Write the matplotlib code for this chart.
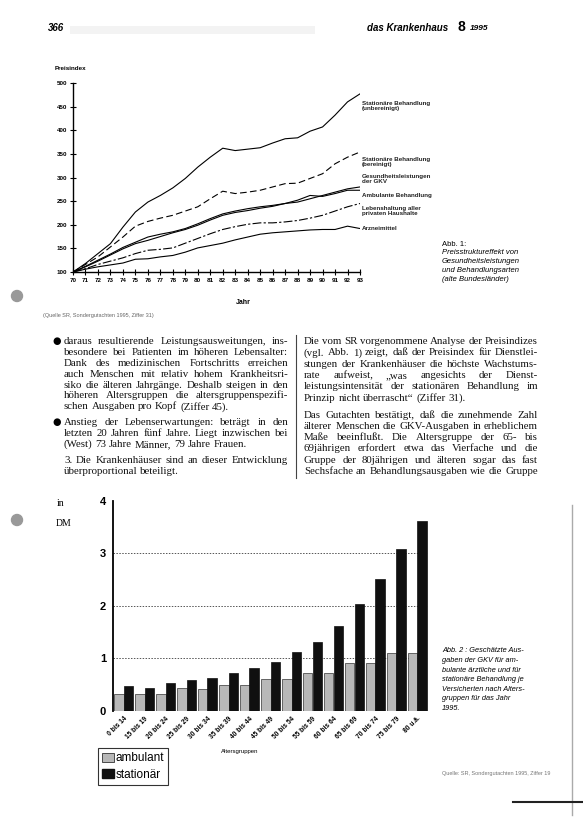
import matplotlib.pyplot as plt
from matplotlib.patches import Patch, Ellipse, Rectangle
from matplotlib.lines import Line2D
import numpy as np

# --- Abb. 1: Preisindizes 1970-1993 ---
years = list(range(70, 94))
stat_unbereinigt = [100, 118, 139, 160, 195, 227, 248, 262, 278, 298, 322, 343,
                    362, 357, 360, 363, 373, 382, 384, 398, 407, 432, 460, 477]
stat_bereinigt = [100, 116, 132, 153, 174, 197, 207, 214, 220, 229, 238, 255,
                  271, 266, 269, 273, 280, 287, 288, 298, 308, 329, 343, 354]
gkv = [100, 112, 125, 138, 152, 163, 174, 180, 185, 192, 202, 213,
       223, 229, 234, 238, 241, 245, 248, 255, 262, 269, 276, 280]
ambulant_idx = [100, 111, 123, 136, 149, 160, 167, 175, 183, 190, 199, 210,
                220, 226, 230, 235, 239, 245, 252, 262, 260, 266, 273, 273]
lebenshaltung = [100, 107, 116, 123, 130, 139, 146, 148, 151, 161, 171, 181,
                 190, 196, 201, 204, 204, 206, 209, 214, 220, 229, 238, 245]
arzneimittel = [100, 106, 111, 115, 119, 127, 128, 132, 135, 142, 151, 156,
                161, 168, 174, 180, 183, 185, 187, 189, 190, 190, 197, 192]
series1_labels = ["Stationäre Behandlung\n(unbereinigt)",
                  "Stationäre Behandlung\n(bereinigt)",
                  "Gesundheitsleistungen\nder GKV",
                  "Ambulante Behandlung",
                  "Lebenshaltung aller\nprivaten Haushalte",
                  "Arzneimittel"]

# --- Abb. 2: Ausgaben je Versicherten 1995 (DM) ---
altersgruppen = ["0 bis 14", "15 bis 19", "20 bis 24", "25 bis 29", "30 bis 34",
                 "35 bis 39", "40 bis 44", "45 bis 49", "50 bis 54", "55 bis 59",
                 "60 bis 64", "65 bis 69", "70 bis 74", "75 bis 79", "80 u.ä."]
ausgaben_ambulant = [0.33, 0.32, 0.33, 0.43, 0.42, 0.50, 0.50, 0.61, 0.61, 0.73,
                     0.73, 0.92, 0.91, 1.10, 1.10]
ausgaben_stationaer = [0.47, 0.43, 0.54, 0.59, 0.63, 0.73, 0.81, 0.94, 1.12, 1.32,
                       1.61, 2.04, 2.51, 3.09, 3.62]

W, H = 583, 824


def fx(px):
    return px / W


def fy(py):
    return 1 - py / H


fig = plt.figure(figsize=(W / 100, H / 100), dpi=100)
fig.patch.set_facecolor('white')
sans = 'Liberation Sans'
serif = 'Liberation Serif'

# Kopfzeile
fig.add_artist(Rectangle((fx(70), fy(34)), 245 / W, 8 / H, transform=fig.transFigure,
                         color='#f3f3f3', lw=0))
fig.text(fx(48), fy(28), "366", fontsize=7, weight='bold', style='italic',
         family=sans, va='center')
fig.text(fx(367), fy(28), "das Krankenhaus", fontsize=7, weight='bold', style='italic',
         family=sans, va='center')
fig.text(fx(457), fy(27), "8", fontsize=10, weight='bold', family=sans, va='center')
fig.text(fx(470), fy(28), "1995", fontsize=6, weight='bold', style='italic',
         family=sans, va='center')

# ---------------- Abb. 1 ----------------
ax1 = fig.add_axes([fx(73), fy(272), 287 / W, 189 / H])
styles = ['-', (0, (6, 3)), '-', '-', (0, (8, 2, 2, 2)), '-']
for vals, ls in zip([stat_unbereinigt, stat_bereinigt, gkv, ambulant_idx,
                     lebenshaltung, arzneimittel], styles):
    ax1.plot(years, vals, color='black', lw=0.8, ls=ls)
ax1.set_xlim(70, 93)
ax1.set_ylim(100, 500)
ax1.set_xticks(years)
ax1.set_xticklabels([str(y) for y in years])
ax1.set_yticks(range(100, 501, 50))
for s in ['top', 'right']:
    ax1.spines[s].set_visible(False)
for s in ['left', 'bottom']:
    ax1.spines[s].set_linewidth(1.0)
ax1.tick_params(direction='inout', length=4, width=0.8, labelsize=4.5, pad=2)
for lab in ax1.get_xticklabels() + ax1.get_yticklabels():
    lab.set_family(sans)
    lab.set_weight('bold')
fig.text(fx(55), fy(68), "Preisindex", fontsize=4.5, weight='bold', family=sans,
         va='center')

label_y = [101, 157, 174, 195, 206, 229]
for lab, y in zip(series1_labels, label_y):
    fig.text(fx(362), fy(y), lab, fontsize=4.5, weight='bold', family=sans,
             va='top' if '\n' in lab else 'center', linespacing=1.05,
             color='#222')

fig.text(fx(442), fy(244), "Abb. 1:", fontsize=5.5, family=sans, va='center')
abb1 = ["Preisstruktureffekt von", "Gesundheitsleistungen",
        "und Behandlungsarten", "(alte Bundesländer)"]
for i, l in enumerate(abb1):
    fig.text(fx(442), fy(253 + 8.7 * i), l, fontsize=5.5, style='italic',
             family=sans, va='center')

fig.text(fx(243), fy(303), "Jahr", fontsize=5, weight='bold', family=sans,
         ha='center', va='center')
fig.text(fx(43), fy(315), "(Quelle SR, Sondergutachten 1995, Ziffer 31)", fontsize=4,
         family=sans, va='center', color='#666')

# ---------------- Fließtext ----------------
renderer = fig.canvas.get_renderer()


def put_line(x0, x1, ypx, line, justify, size=7.8):
    words = line.split(' ')
    ts = [fig.text(0, fy(ypx + 3), w, fontsize=size, family=serif, va='baseline',
                   color='#111') for w in words]
    ws = [t.get_window_extent(renderer).width for t in ts]
    if justify and len(words) > 1:
        gap = (x1 - x0 - sum(ws)) / (len(words) - 1)
    else:
        gap = size * 1.39 * 0.25
    x = x0
    for t, w in zip(ts, ws):
        t.set_x(fx(x))
        x += w + gap


left_paras = [
    ["daraus resultierende Leistungsausweitungen, ins-",
     "besondere bei Patienten im höheren Lebensalter:",
     "Dank des medizinischen Fortschritts erreichen",
     "auch Menschen mit relativ hohem Krankheitsri-",
     "siko die älteren Jahrgänge. Deshalb steigen in den",
     "höheren Altersgruppen die altersgruppenspezifi-",
     "schen Ausgaben pro Kopf (Ziffer 45)."],
    ["Anstieg der Lebenserwartungen: beträgt in den",
     "letzten 20 Jahren fünf Jahre. Liegt inzwischen bei",
     "(West) 73 Jahre Männer, 79 Jahre Frauen."],
    ["3. Die Krankenhäuser sind an dieser Entwicklung",
     "überproportional beteiligt."],
]
right_paras = [
    ["Die vom SR vorgenommene Analyse der Preisindizes",
     "(vgl. Abb. 1) zeigt, daß der Preisindex für Dienstlei-",
     "stungen der Krankenhäuser die höchste Wachstums-",
     "rate aufweist, „was angesichts der Dienst-",
     "leistungsintensität der stationären Behandlung im",
     "Prinzip nicht überrascht“ (Ziffer 31)."],
    ["Das Gutachten bestätigt, daß die zunehmende Zahl",
     "älterer Menschen die GKV-Ausgaben in erheblichem",
     "Maße beeinflußt. Die Altersgruppe der 65- bis",
     "69jährigen erfordert etwa das Vierfache und die",
     "Gruppe der 80jährigen und älteren sogar das fast",
     "Sechsfache an Behandlungsausgaben wie die Gruppe"],
]

y = 341
for pi, para in enumerate(left_paras):
    if pi < 2:
        fig.text(fx(52), fy(y + 3), "●", fontsize=7, family='DejaVu Sans',
                 va='baseline')
    for li, line in enumerate(para):
        put_line(64, 288, y, line, li < len(para) - 1)
        y += 10.9
    y += 5

y = 341
for pi, para in enumerate(right_paras):
    for li, line in enumerate(para):
        last = li == len(para) - 1 and pi == 0
        put_line(304, 538, y, line, not last)
        y += 11.3
    y += 5.7

fig.add_artist(Line2D([fx(296), fx(296)], [fy(335), fy(478)], color='#444', lw=0.8))

# ---------------- Abb. 2 ----------------
ax2 = fig.add_axes([fx(113), fy(711), 315 / W, 210.3 / H])
xpos = np.arange(len(altersgruppen))
bw = 0.44
for lvl in [1, 2, 3]:
    ax2.axhline(lvl, color='#555', lw=0.7, ls=(0, (1.5, 1.5)), zorder=0)
ax2.bar(xpos - bw / 2, ausgaben_ambulant, bw, color='#b8b8b8', edgecolor='#333',
        lw=0.5, zorder=2)
ax2.bar(xpos + bw / 2, ausgaben_stationaer, bw, color='#101010', edgecolor='#101010',
        lw=0.5, zorder=2)
ax2.set_xlim(-0.5, 14.5)
ax2.set_ylim(0, 4)
ax2.set_yticks([0, 1, 2, 3, 4])
ax2.set_xticks(xpos)
ax2.set_xticklabels(altersgruppen, rotation=45, ha='right', va='top',
                    rotation_mode='anchor', fontsize=4.8, weight='bold', family=sans)
ax2.tick_params(axis='x', length=0, pad=3)
ax2.tick_params(axis='y', length=0, pad=5, labelsize=8)
for lab in ax2.get_yticklabels():
    lab.set_family(sans)
    lab.set_weight('bold')
for s in ['top', 'right', 'bottom']:
    ax2.spines[s].set_visible(False)
ax2.spines['left'].set_linewidth(1.3)

fig.text(fx(57), fy(504), "in", fontsize=7, family=serif, va='center')
fig.text(fx(56), fy(523), "DM", fontsize=7, family=serif, va='center')
fig.text(fx(240), fy(752), "Altersgruppen", fontsize=4.3, family=sans, ha='center',
         va='center')

handles = [Patch(facecolor='#b8b8b8', edgecolor='#333', lw=0.6),
           Patch(facecolor='#101010', edgecolor='#101010')]
leg = fig.legend(handles, ["ambulant", "stationär"], loc='upper left',
                 bbox_to_anchor=(fx(98), fy(748)), borderaxespad=0, frameon=True,
                 fancybox=False, edgecolor='black', handlelength=1.0,
                 handleheight=0.8, handletextpad=0.15, borderpad=0.35,
                 labelspacing=0.4, prop={'family': sans, 'size': 8.5})
leg.get_frame().set_linewidth(0.8)

abb2 = ["Abb. 2 : Geschätzte Aus-", "gaben der GKV für am-", "bulante ärztliche und für",
        "stationäre Behandlung je", "Versicherten nach Alters-", "gruppen für das Jahr",
        "1995."]
for i, l in enumerate(abb2):
    fig.text(fx(442), fy(651 + 9.6 * i), l, fontsize=5.3, style='italic', family=sans,
             va='center')
fig.text(fx(442), fy(774), "Quelle: SR, Sondergutachten 1995, Ziffer 19", fontsize=4,
         family=sans, va='center', color='#777')

# Scan-Ränder
for yy in [296, 520]:
    fig.add_artist(Ellipse((fx(17), fy(yy)), 11 / W, 11 / H, transform=fig.transFigure,
                           color='#999'))
fig.add_artist(Line2D([fx(572), fx(572)], [fy(505), fy(815)], color='#aaa', lw=1.0))
fig.add_artist(Line2D([fx(513), fx(583)], [fy(802), fy(802)], color='#222', lw=1.5))

fig.savefig("out.png", dpi=100)
